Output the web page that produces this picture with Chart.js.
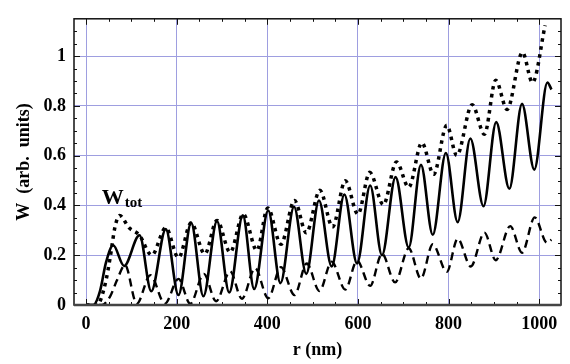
<!DOCTYPE html>
<html>
<head>
<meta charset="utf-8">
<script src="https://cdn.jsdelivr.net/npm/chart.js@4"></script>
<style>
  html, body { margin: 0; padding: 0; background: #fff; }
  #wrap { width: 570px; height: 364px; }
</style>
</head>
<body>
<div id="wrap"><canvas id="chart1" width="570" height="364"></canvas></div>
<script>
// values (r in nm, W in arb. units)
const rSolid = [0, 16, 31, 44, 60, 84, 118, 144, 176, 204, 232, 259, 289, 316, 346, 371, 402, 429, 459, 486, 514, 542, 570, 598, 627, 653, 683, 712, 739, 765, 794, 820, 848, 877, 905, 934, 962, 989, 1018, 1027];
const wSolid = [0, 0, 0.057, 0.17, 0.24, 0.157, 0.28, 0.055, 0.305, 0.04, 0.33, 0.035, 0.337, 0.05, 0.36, 0.064, 0.38, 0.088, 0.395, 0.125, 0.42, 0.155, 0.444, 0.167, 0.48, 0.2, 0.514, 0.231, 0.563, 0.282, 0.611, 0.333, 0.669, 0.397, 0.735, 0.467, 0.808, 0.544, 0.894, 0.866];

const rDashed = [0, 35, 53, 68, 86, 112, 142, 174, 204, 230, 260, 287, 318, 344, 373, 402, 430, 460, 487, 515, 542, 572, 598, 627, 653, 682, 712, 739, 765, 796, 820, 849, 879, 904, 936, 962, 990, 1017, 1027];
const wDashed = [0, 0, 0.034, 0.098, 0.161, 0.005, 0.12, 0.005, 0.105, 0.005, 0.125, 0.015, 0.135, 0.025, 0.148, 0.027, 0.152, 0.04, 0.167, 0.056, 0.174, 0.062, 0.178, 0.077, 0.206, 0.091, 0.228, 0.106, 0.244, 0.133, 0.266, 0.155, 0.291, 0.18, 0.317, 0.21, 0.352, 0.25, 0.262];

const rDotted = [0, 25, 31, 44, 53, 64, 74, 95, 118, 145, 176, 204, 232, 262, 289, 318, 347, 377, 401, 430, 460, 486, 516, 544, 572, 600, 626, 656, 685, 712, 741, 767, 796, 818, 852, 879, 904, 929, 963, 985, 1013];
const wDotted = [0, 0, 0.015, 0.098, 0.187, 0.314, 0.36, 0.31, 0.28, 0.2, 0.31, 0.19, 0.33, 0.205, 0.34, 0.212, 0.365, 0.219, 0.39, 0.244, 0.42, 0.29, 0.461, 0.314, 0.499, 0.365, 0.533, 0.403, 0.575, 0.473, 0.652, 0.525, 0.722, 0.601, 0.805, 0.686, 0.903, 0.786, 1.015, 0.894, 1.124];

const xTicks = [0, 200, 400, 600, 800, 1000];
const yTicks = [0, 0.2, 0.4, 0.6, 0.8, 1];
const yTickLabels = ['0', '0.2', '0.4', '0.6', '0.8', '1'];

const serif = 'Liberation Serif';
const gridColor = 'rgb(158, 158, 224)';

function toPoints(xs, ys) {
  return xs.map((x, i) => ({ x: x, y: ys[i] }));
}

// frame, inward minor ticks and the W_tot label
const framePlugin = {
  id: 'frame',
  afterDatasetsDraw(chart) {
    const { ctx, chartArea: a, scales: { x, y } } = chart;
    ctx.save();
    ctx.strokeStyle = '#111';
    ctx.lineWidth = 1;
    for (let v = 0; v <= 1.15; v += 0.05) {
      const py = Math.round(y.getPixelForValue(v)) + 0.5;
      const len = Math.abs(v / 0.2 - Math.round(v / 0.2)) < 1e-6 ? 6 : 3;
      ctx.beginPath();
      ctx.moveTo(a.left, py); ctx.lineTo(a.left + len, py);
      ctx.moveTo(a.right, py); ctx.lineTo(a.right - len, py);
      ctx.stroke();
    }
    for (let v = 0; v <= 1040; v += 50) {
      const px = Math.round(x.getPixelForValue(v)) + 0.5;
      const len = v % 200 === 0 ? 6 : 3;
      ctx.beginPath();
      ctx.moveTo(px, a.bottom); ctx.lineTo(px, a.bottom - len);
      ctx.moveTo(px, a.top); ctx.lineTo(px, a.top + len);
      ctx.stroke();
    }
    // frame
    ctx.lineWidth = 1.5;
    ctx.strokeStyle = '#111';
    ctx.strokeRect(a.left, a.top, a.right - a.left, a.bottom - a.top);
    ctx.lineWidth = 2.5;
    ctx.strokeStyle = '#444';
    ctx.beginPath();
    ctx.moveTo(a.left, a.bottom); ctx.lineTo(a.right, a.bottom);
    ctx.stroke();
    // label
    ctx.fillStyle = '#000';
    ctx.textBaseline = 'alphabetic';
    const lx = x.getPixelForValue(35);
    const ly = y.getPixelForValue(0.405);
    ctx.font = 'bold 22px "' + serif + '"';
    ctx.fillText('W', lx, ly);
    const ww = ctx.measureText('W').width;
    ctx.font = 'bold 15px "' + serif + '"';
    ctx.fillText('tot', lx + ww + 1, ly + 3);
    ctx.restore();
  }
};

const chart1Ctx = document.getElementById('chart1').getContext('2d');
window.myLineChart = new Chart(chart1Ctx, {
  type: 'line',
  data: {
    datasets: [
      {
        label: 'solid',
        data: toPoints(rSolid, wSolid),
        borderColor: '#000',
        borderWidth: 2.6,
        cubicInterpolationMode: 'monotone',
        pointRadius: 0,
        fill: false,
      },
      {
        label: 'dotted',
        data: toPoints(rDotted, wDotted),
        borderColor: '#000',
        borderWidth: 3.5,
        borderDash: [3.5, 4.5],
        borderCapStyle: 'butt',
        cubicInterpolationMode: 'monotone',
        pointRadius: 0,
        fill: false,
      },
      {
        label: 'dashed',
        data: toPoints(rDashed, wDashed),
        borderColor: '#000',
        borderWidth: 2.4,
        borderDash: [8, 5],
        borderCapStyle: 'butt',
        cubicInterpolationMode: 'monotone',
        pointRadius: 0,
        fill: false,
      },
    ],
  },
  options: {
    responsive: false,
    animation: false,
    layout: { padding: { top: 5, right: 9, left: 0, bottom: 0 } },
    plugins: { legend: { display: false }, tooltip: { enabled: false } },
    scales: {
      x: {
        type: 'linear',
        min: -26.5,
        max: 1048,
        afterBuildTicks: (s) => { s.ticks = xTicks.map((v) => ({ value: v })); },
        afterFit: (s) => { s.height = 59; },
        grid: { color: gridColor, lineWidth: 1, drawTicks: false },
        border: { display: false },
        ticks: {
          color: '#000',
          padding: 9,
          maxRotation: 0,
          font: { family: serif, size: 18, weight: 'bold' },
          callback: (v) => String(v),
        },
        title: { display: true, text: 'r (nm)', color: '#000', padding: { top: 0, bottom: 3 }, font: { family: serif, size: 18, weight: 'bold' } },
      },
      y: {
        min: 0,
        max: 1.15,
        afterBuildTicks: (s) => { s.ticks = yTicks.map((v) => ({ value: v })); },
        afterFit: (s) => { s.width = 74; },
        grid: { color: gridColor, lineWidth: 1, drawTicks: false },
        border: { display: false },
        ticks: {
          color: '#000',
          padding: 8,
          font: { family: serif, size: 18, weight: 'bold' },
          callback: (v) => yTickLabels[yTicks.indexOf(v)],
        },
        title: { display: true, text: 'W  (arb.  units)', color: '#000', padding: { top: 14, bottom: 0 }, font: { family: serif, size: 18, weight: 'bold' } },
      },
    },
  },
  plugins: [framePlugin],
});
</script>
</body>
</html>
